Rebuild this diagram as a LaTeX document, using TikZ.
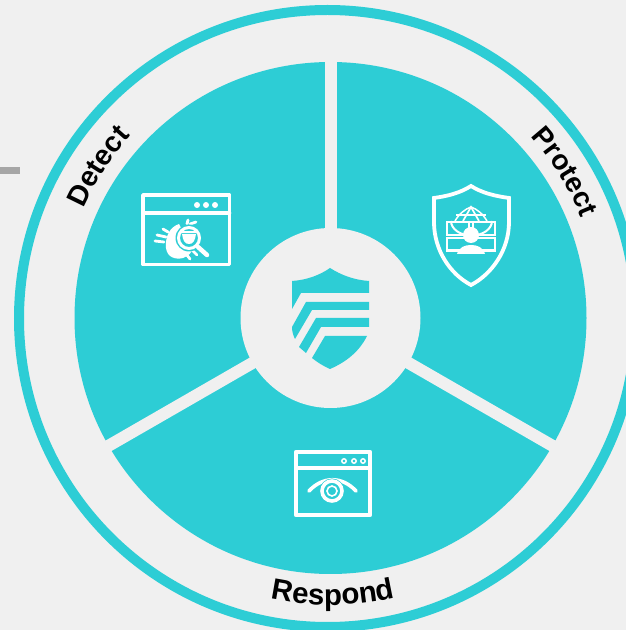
\documentclass[tikz,border=0pt]{standalone}
\usepackage{fontspec}
\setmainfont{Liberation Sans}
\usetikzlibrary{decorations.text}
\definecolor{teal1}{HTML}{2DCDD5}
\definecolor{bg}{HTML}{F0F0F0}
\definecolor{dash1}{HTML}{A6A6A6}
\tikzset{
  wl/.style={draw=white,line width=3.6pt,line join=round,line cap=round},
  wf/.style={fill=white,draw=none},
  gap/.style={draw=bg,line width=12pt,line cap=butt},
  tk/.style={fill=teal1,draw=none},
  lbl/.style 2 args={decorate,decoration={text along path,text align=center,raise=0pt,
     text={|\fontsize{#1}{#1}\selectfont\bfseries|#2}}}
}
\begin{document}
\begin{tikzpicture}[x=1pt,y=1pt]
\useasboundingbox (0,0) rectangle (626,630);
\fill[bg] (0,0) rectangle (626,630);
% all px coordinates, y down
\begin{scope}[shift={(0,630)},y=-1pt]
\fill[dash1] (0,167) rectangle (20,174);
\coordinate (c) at (330.5,318);
\coordinate (r) at (327.5,318.5);
\draw[draw=teal1,line width=10pt] (r) circle[radius=308.5];
\fill[teal1] (c) circle[radius=256];
\coordinate (g1) at (330.5,50);
\coordinate (g2) at (565,453);
\coordinate (g3) at (96,453);
\draw[gap] (c) -- (g1);
\draw[gap] (c) -- (g2);
\draw[gap] (c) -- (g3);
\fill[bg] (c) circle[radius=90];
% centre shield
\fill[tk] (292,281) .. controls (307,280) and (320,275) .. (330,268) .. controls (341,275) and (354,280) .. (369,281) -- (369,293) -- (301,293) -- (292,309) -- cycle;
\fill[tk] (306,302) -- (369,302) -- (369,310) -- (312,310) -- (295,339) .. controls (293,335) and (292,331) .. (292,327) -- cycle;
\fill[tk] (316,318) -- (369,318) -- (369,327) -- (321,327) -- (306,353) -- (299,347) -- cycle;
\fill[tk] (325,336) -- (367,336) .. controls (359,352) and (346,362) .. (330,369) .. controls (323,366) and (317,362) .. (312,358) -- cycle;
% detect icon
\draw[wl] (143,195) rectangle (229.5,264.5);
\draw[wl] (143,213) -- (229.5,213);
\foreach \x in {197,206,215}{\fill[white] (\x,205) circle[radius=3];}
\fill[wf] (179,224) .. controls (170,227) and (165,236) .. (166,248) .. controls (167,257) and (175,260) .. (183,258) .. controls (189,256) and (192,252) .. (192,249) -- cycle;
\draw[white,line width=2.8pt,line cap=round] (168,232) -- (163,229) (166,237) -- (157,235) (164,242) -- (155,241) (187,224) -- (188,220) (190,224) -- (196,222) (192,250) -- (197,255) (186,254) -- (190,259);
\fill[teal1] (189,238) circle[radius=13.5];
\draw[white,line width=3pt] (189,238) circle[radius=10.5];
\fill[wf] (182,234) -- (196,234) .. controls (195,241) and (193,244) .. (189,244) .. controls (185,244) and (183,241) .. (182,234) -- cycle;
\draw[white,line width=1.6pt] (181,232) -- (197,232);
\draw[white,line width=4.5pt,line cap=round] (198,247) -- (207,255);
% protect icon
\draw[white,line width=3.8pt,line join=miter] (471,186) .. controls (460,193) and (448,196) .. (434,198) -- (434,222) .. controls (434,250) and (450,274) .. (471,285) .. controls (492,274) and (509,250) .. (509,222) -- (509,198) .. controls (495,196) and (482,193) .. (471,186) -- cycle;
\draw[white,line width=2pt] (451,221) arc[start angle=180,end angle=0,x radius=20.5,y radius=14.5];
\draw[white,line width=1.7pt] (463,221) -- (471,207) -- (479,221);
\draw[white,line width=1.7pt] (456,215) -- (486,215);
\draw[white,line width=1.5pt] (455,221) .. controls (459,214) and (465,209) .. (471,207) .. controls (477,209) and (483,214) .. (487,221);
\draw[white,line width=2.2pt] (447,222) rectangle (495,235) (447,238) rectangle (495,250.5);
\draw[white,line width=2pt] (469,221) -- (469,230) (473,221) -- (473,230);
\fill[white] (471,235) circle[radius=8];
\fill[tk] (464,243.5) rectangle (478,244.5);
\fill[white] (457,254) .. controls (459,247) and (465,245) .. (471,245) .. controls (477,245) and (483,247) .. (485,254) -- cycle;
% respond icon
\draw[wl] (295.8,451.8) rectangle (370.2,515.2);
\draw[wl] (295.8,468) -- (370.2,468);
\foreach \x in {344,354,363}{\draw[white,line width=1.5pt] (\x,461) circle[radius=2.2];}
\draw[white,line width=3.6pt,line cap=round] (309,491) .. controls (323,476) and (342,476) .. (356,491);
\fill[teal1] (332,491) circle[radius=12.5];
\draw[white,line width=3.6pt] (332,491) circle[radius=10];
\draw[white,line width=1.6pt] (332,491) circle[radius=5];
\end{scope}
% labels, y up, around centre (330.5,312)
\begin{scope}[shift={(330.5,312)}]
\path[lbl={29.5}{Respond}] (215.5:287) arc[start angle=215.5,end angle=325.5,radius=287];
\path[lbl={28.5}{Detect}] (176.8:270) arc[start angle=176.8,end angle=116.8,radius=270];
\path[lbl={28}{Protect}] (62:270) arc[start angle=62,end angle=2,radius=270];
\end{scope}
\end{tikzpicture}
\end{document}
